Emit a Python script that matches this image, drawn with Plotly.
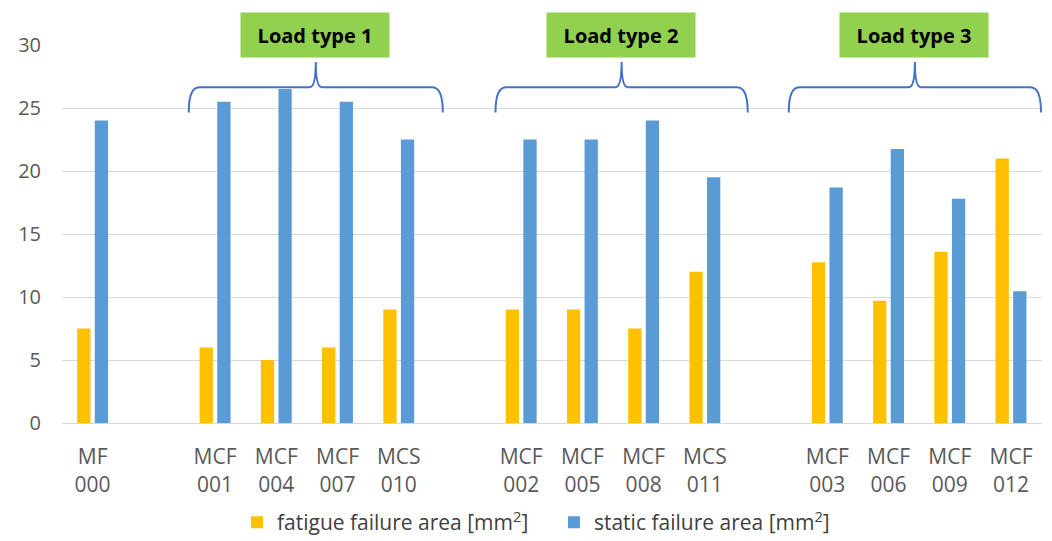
import plotly.graph_objects as go

# specimens (blank entries are the empty slots between load types)
slots = ["MF<br>000", " ",
         "MCF<br>001", "MCF<br>004", "MCF<br>007", "MCS<br>010", "  ",
         "MCF<br>002", "MCF<br>005", "MCF<br>008", "MCS<br>011", "   ",
         "MCF<br>003", "MCF<br>006", "MCF<br>009", "MCF<br>012"]

specimens = ["MF<br>000",
             "MCF<br>001", "MCF<br>004", "MCF<br>007", "MCS<br>010",
             "MCF<br>002", "MCF<br>005", "MCF<br>008", "MCS<br>011",
             "MCF<br>003", "MCF<br>006", "MCF<br>009", "MCF<br>012"]
fatigue = [7.5, 6, 5, 6, 9, 9, 9, 7.5, 12, 12.75, 9.7, 13.6, 21]
static  = [24, 25.5, 26.5, 25.5, 22.5, 22.5, 22.5, 24, 19.5, 18.7, 21.75, 17.8, 10.45]

groups = ["Load type 1", "Load type 2", "Load type 3"]
group_left  = [1.57, 6.58, 11.37]
group_right = [5.72, 10.70, 15.49]

fig = go.Figure()
fig.add_trace(go.Bar(x=specimens, y=fatigue, name='fatigue failure area [mm<sup>2</sup>]',
                     marker=dict(color='#FFC000', line=dict(width=0))))
fig.add_trace(go.Bar(x=specimens, y=static, name='static failure area [mm<sup>2</sup>]',
                     marker=dict(color='#5B9BD5', line=dict(width=0))))

# braces + green labels
y_end, y_mid, y_tip = 24.65, 26.65, 28.65
for name, a, b in zip(groups, group_left, group_right):
    c = (a + b) / 2
    r, r2 = 0.17, 0.1
    path = (f"M {a},{y_end} Q {a},{y_mid} {a + r},{y_mid} L {c - r2},{y_mid} "
            f"Q {c},{y_mid} {c},{y_tip} Q {c},{y_mid} {c + r2},{y_mid} "
            f"L {b - r},{y_mid} Q {b},{y_mid} {b},{y_end}")
    fig.add_shape(type='path', path=path, xref='x', yref='y',
                  line=dict(color='#4472C4', width=2))
    fig.add_annotation(x=c - 0.01, y=1.027, xref='x', yref='paper', yanchor='middle',
                       text=f"<b>{name}</b>",
                       showarrow=False, bgcolor='#92D050', width=148, height=44,
                       borderpad=0, font=dict(size=20, color='black', family='Open Sans'))

fig.update_layout(
    width=1052, height=541,
    margin=dict(l=62, r=10, t=45, b=118),
    paper_bgcolor='white', plot_bgcolor='white',
    font=dict(family='Open Sans', color='#595959'),
    barmode='group', bargap=0.425, bargroupgap=0.245,
    showlegend=True,
    legend=dict(orientation='h', x=0.502, xanchor='center',
                yref='container', y=0.034, yanchor='middle',
                font=dict(size=21, color='#404040'), entrywidth=272),
    xaxis=dict(type='category', categoryorder='array', categoryarray=slots,
               tickvals=specimens,
               showline=True, linecolor='#D9D9D9', linewidth=1, ticks='',
               tickfont=dict(size=21, color='#595959'), ticklabelstandoff=15,
               automargin=False),
    yaxis=dict(range=[0, 30], dtick=5, showgrid=True, gridcolor='#D9D9D9',
               zeroline=False, tickfont=dict(size=20, color='#595959'),
               ticklabelstandoff=20, automargin=False),
)

fig.write_html("out.html", config={'displayModeBar': False},
               post_script="document.body.style.margin='0';")
